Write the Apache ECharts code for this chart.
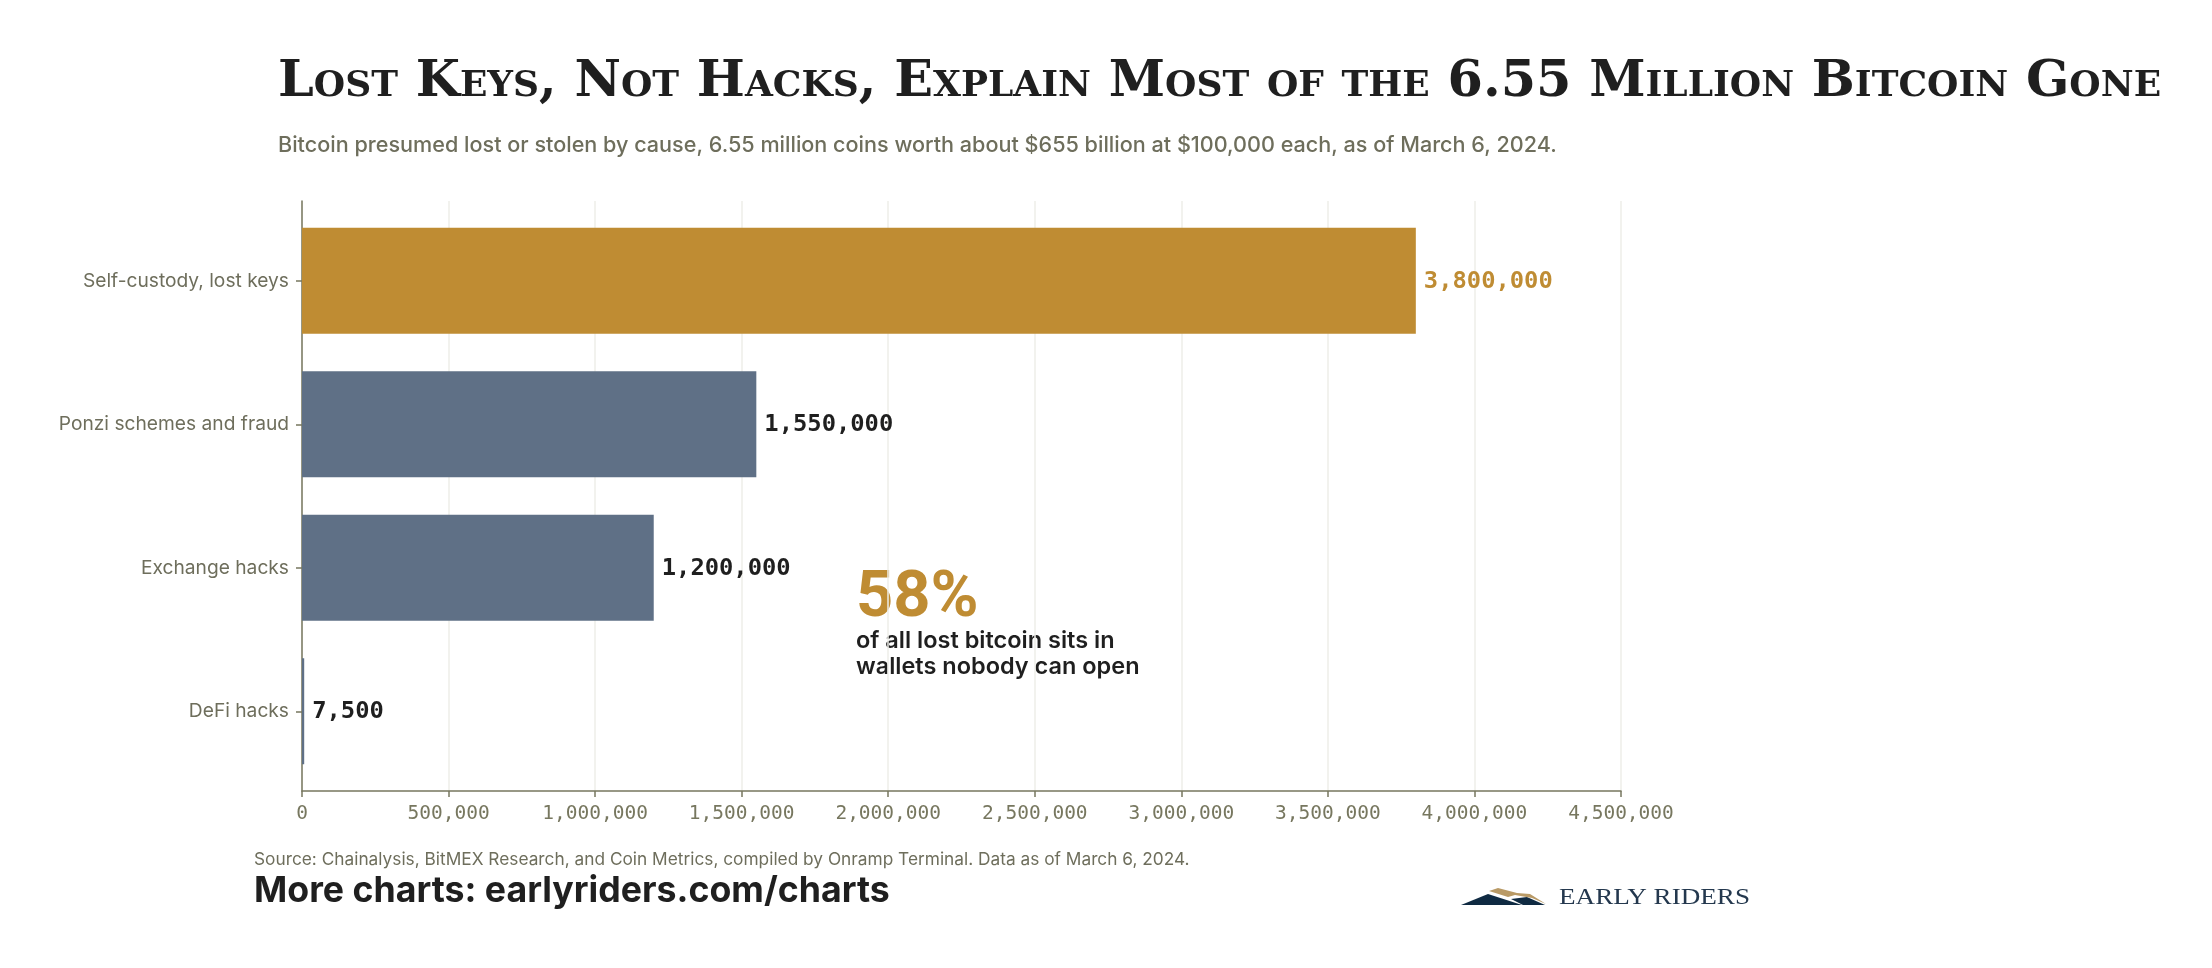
<!DOCTYPE html>
<html>
<head>
<meta charset="utf-8">
<title>Lost Keys, Not Hacks</title>
<style>
  html, body { margin: 0; padding: 0; background: #fff; }
  #chart { width: 2212px; height: 968px; }
</style>
<script src="https://cdn.jsdelivr.net/npm/echarts@6/dist/echarts.min.js"></script>
</head>
<body>
<div id="chart"></div>
<script>
const categories = ['Self-custody, lost keys', 'Ponzi schemes and fraud', 'Exchange hacks', 'DeFi hacks'];
const lostCoins = [3800000, 1550000, 1200000, 7500];
const barColors = ['#bf8c33', '#5f7086', '#5f7086', '#5f7086'];
const labelColors = ['#bf8c33', '#1f1f1f', '#1f1f1f', '#1f1f1f'];
const axisMax = 4500000;
const tickStep = 500000;

const titleText = 'Lost Keys, Not Hacks, Explain Most of the 6.55 Million Bitcoin Gone';
const subtitleText = 'Bitcoin presumed lost or stolen by cause, 6.55 million coins worth about $655 billion at $100,000 each, as of March 6, 2024.';
const sourceText = 'Source: Chainalysis, BitMEX Research, and Coin Metrics, compiled by Onramp Terminal. Data as of March 6, 2024.';
const moreText = 'More charts: earlyriders.com/charts';
const calloutValue = '58%';
const calloutLines = 'of all lost bitcoin sits in\nwallets nobody can open';
const logoText = 'EARLY RIDERS';

const ink = '#1f1f1f';
const muted = '#6e6e5c';
const axisColor = '#77775f';
const sans = 'Inter, "Noto Sans", sans-serif';
const mono = '"DejaVu Sans Mono", monospace';

function text(x, y, str, size, weight, color, family, extra) {
    return {
        type: 'text',
        x: x,
        y: y,
        silent: true,
        style: Object.assign({
            text: str,
            fontSize: size,
            fontWeight: weight,
            fontFamily: family || sans,
            fill: color,
            textVerticalAlign: 'top'
        }, extra || {})
    };
}

function logoShape(points, color) {
    return { type: 'polygon', silent: true, shape: { points: points }, style: { fill: color } };
}

const chart = echarts.init(document.getElementById('chart'), null, { renderer: 'canvas' });

const logoLabel = text(1559, 886, logoText, 23, 400, '#24384e', '"Liberation Serif", serif');
logoLabel.scaleX = 1.18; // the wordmark is letterspaced in the original

chart.setOption({
    animation: false,
    backgroundColor: '#ffffff',
    // outer grid draws the frame, inner one is inset so the bands sit off the axis ends
    grid: [
        { left: 302, right: 591, top: 201, bottom: 177 },
        { left: 302, right: 591, top: 209, bottom: 185 }
    ],
    xAxis: [
        {
            type: 'value',
            gridIndex: 0,
            min: 0,
            max: axisMax,
            interval: tickStep,
            axisLine: { show: true, lineStyle: { color: axisColor, width: 1.5 } },
            axisTick: { show: true, length: 6, lineStyle: { color: axisColor, width: 1.5 } },
            axisLabel: {
                margin: 13,
                color: axisColor,
                fontFamily: mono,
                fontSize: 19.5,
                formatter: function (v) { return v.toLocaleString('en-US'); }
            },
            splitLine: { show: true, lineStyle: { color: '#eeeee9', width: 1.5 } }
        },
        {
            type: 'value',
            gridIndex: 1,
            min: 0,
            max: axisMax,
            show: false
        }
    ],
    yAxis: [
        {
            type: 'category',
            gridIndex: 0,
            data: [],
            axisLine: { show: true, lineStyle: { color: axisColor, width: 1.5 } },
            axisTick: { show: false },
            axisLabel: { show: false },
            splitLine: { show: false }
        },
        {
            type: 'category',
            gridIndex: 1,
            inverse: true,
            data: categories,
            axisLine: { show: false },
            axisTick: { show: true, alignWithLabel: true, length: 6, lineStyle: { color: axisColor, width: 1.5 } },
            axisLabel: { margin: 13, color: muted, fontFamily: sans, fontSize: 19.2, padding: [6, 0, 0, 0] }
        }
    ],
    series: [{
        type: 'bar',
        xAxisIndex: 1,
        yAxisIndex: 1,
        barWidth: 106,
        data: lostCoins.map(function (v, i) {
            return {
                value: v,
                itemStyle: { color: barColors[i] },
                label: { color: labelColors[i] }
            };
        }),
        label: {
            show: true,
            position: 'right',
            distance: 8,
            offset: [0, 1],
            fontFamily: mono,
            fontWeight: 'bold',
            fontSize: 23.8,
            formatter: function (p) { return p.value.toLocaleString('en-US'); }
        }
    }],
    graphic: [
        text(278, 57, titleText, 50.9, 'bold', ink, '"DejaVu Serif", serif', { fontStyle: 'small-caps' }),
        text(278, 134, subtitleText, 21.6, 500, muted),
        text(856, 567, calloutValue, 65, 700, '#bf8c33', 'Roboto, sans-serif'),
        text(856, 628, calloutLines, 23.5, 600, ink, sans, { lineHeight: 26 }),
        text(254, 851, sourceText, 17.3, 400, muted),
        text(254, 873, moreText, 35.7, 700, ink),
        logoShape([[1461, 905], [1488, 894], [1522, 905]], '#0f2a42'),
        logoShape([[1511, 899], [1527, 897], [1545, 905], [1523, 905]], '#0f2a42'),
        logoShape([[1489, 891], [1498, 888], [1517, 893], [1530, 894], [1546, 904], [1532, 898], [1515, 895], [1508, 897]], '#b99a66'),
        logoLabel
    ]
});
</script>
</body>
</html>
